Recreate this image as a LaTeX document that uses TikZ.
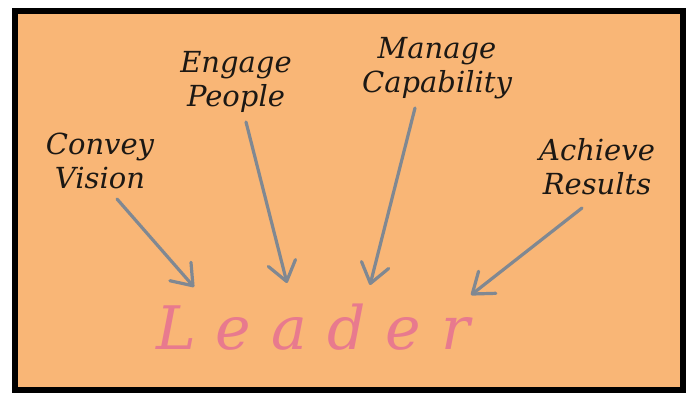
\documentclass[tikz,border=0pt]{standalone}
\usepackage{fontspec}
\setmainfont{DejaVu Serif}
\usetikzlibrary{arrows.meta}
\definecolor{bgorange}{RGB}{249,182,118}
\definecolor{arrowgray}{RGB}{128,136,146}
\definecolor{leaderpink}{RGB}{232,122,142}
\definecolor{inkblack}{RGB}{28,24,20}
\tikzset{
  lbl/.style={font=\fontsize{29}{34}\selectfont\itshape, text=inkblack, align=center, inner sep=0pt},
  arr/.style={draw=arrowgray, line width=3.2pt, line cap=round,
    -{Straight Barb[length=19pt,width=28pt,line width=3.2pt,round]}}
}
\begin{document}
\begin{tikzpicture}[x=1pt,y=1pt]
\useasboundingbox (0,0) rectangle (692,393);
\fill[white] (0,0) rectangle (692,393);
\filldraw[fill=bgorange, draw=black, line width=6pt] (15,3) rectangle (682.5,382);
\node[lbl] (cv) at (100,232.5) {Convey\\Vision};
\node[lbl] (ep) at (236,311.5) {Engage\\People};
\node[lbl] (mc) at (437,325) {Manage\\Capability};
\node[lbl] (ar) at (597,226.5) {Achieve\\Results};
\node[font=\fontsize{60}{60}\selectfont\itshape, text=leaderpink, anchor=base, inner sep=0pt] (leader) at (313,43)
  {L\kern20pt e\kern20pt a\kern20pt d\kern20pt e\kern20pt r};
\coordinate (t1) at (194,106);
\coordinate (t2) at (287,110);
\coordinate (t3) at (370,108);
\coordinate (t4) at (471,98);
\draw[arr] ([shift={(17,-38.5)}]cv.center) -- (t1);
\draw[arr] ([shift={(10,-40.5)}]ep.center) -- (t2);
\draw[arr] ([shift={(-22,-40)}]mc.center) -- (t3);
\draw[arr] ([shift={(-15,-41.5)}]ar.center) -- (t4);
\end{tikzpicture}
\end{document}
